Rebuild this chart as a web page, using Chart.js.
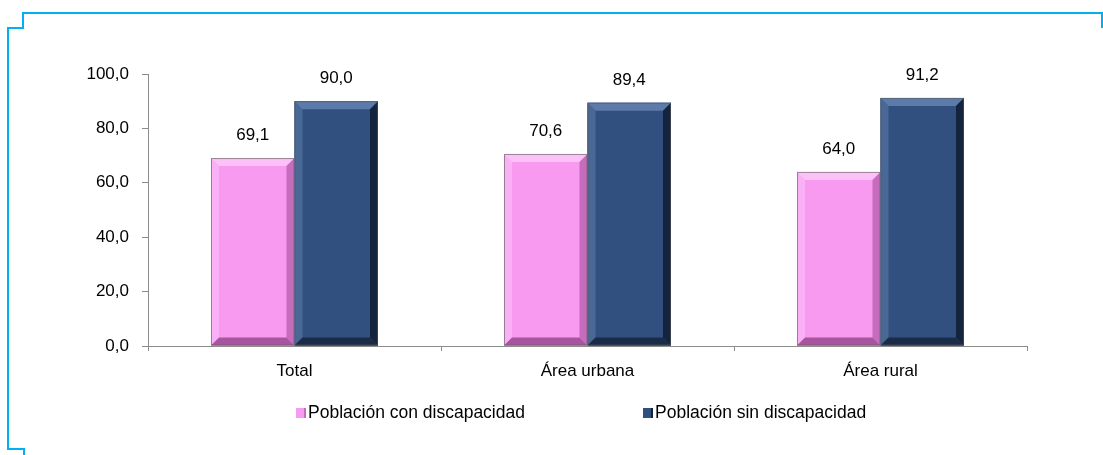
<!DOCTYPE html>
<html>
<head>
<meta charset="utf-8">
<script src="https://cdn.jsdelivr.net/npm/chart.js@4/dist/chart.umd.min.js"></script>
<style>
html,body{margin:0;padding:0;background:#fff;}
#wrap{position:relative;width:1103px;height:455px;}
</style>
</head>
<body>
<div id="wrap"><canvas id="c" width="1103" height="455"></canvas></div>
<script>
const categories = ['Total', 'Área urbana', 'Área rural'];
const conDiscapacidad = [69.1, 70.6, 64.0];
const sinDiscapacidad = [90.0, 89.4, 91.2];
const seriesNames = ['Población con discapacidad', 'Población sin discapacidad'];
const yTicks = [0, 20, 40, 60, 80, 100];

const FONT = '"Liberation Sans", Arial, sans-serif';
const fmt = v => v.toFixed(1).replace('.', ',');

const palette = [
  {fill:'#F99AF1', light:'#FCC2F8', dark:'#C56CBC', darker:'#A8549F'},
  {fill:'#31507F', light:'#5C7BAA', dark:'#14243F', darker:'#1B2C48'}
];

const frame = {
  id:'frame',
  afterDraw(chart){
    const ctx = chart.ctx;
    ctx.save();
    ctx.strokeStyle = '#00B0F0';
    ctx.lineWidth = 2;
    ctx.beginPath();
    ctx.moveTo(1102, 28); ctx.lineTo(1102, 13); ctx.lineTo(23, 13); ctx.lineTo(23, 28);
    ctx.lineTo(8, 28); ctx.lineTo(8, 449); ctx.lineTo(24, 449); ctx.lineTo(24, 455);
    ctx.stroke();
    ctx.restore();
  }
};

const bevel = {
  id:'bevel',
  afterDatasetsDraw(chart){
    const ctx = chart.ctx;
    ctx.save();
    chart.data.datasets.forEach((ds, di) => {
      const meta = chart.getDatasetMeta(di);
      const p = palette[di];
      meta.data.forEach((bar, i) => {
        const {x, y, base, width} = bar.getProps(['x','y','base','width'], true);
        const l = x - width/2, r = x + width/2, t = y, b = base;
        const s = 8;
        ctx.fillStyle = p.fill;
        ctx.fillRect(l, t, width, b - t);
        ctx.fillStyle = p.light;
        ctx.beginPath(); ctx.moveTo(l, t); ctx.lineTo(r, t); ctx.lineTo(r - s, t + s); ctx.lineTo(l + s, t + s); ctx.closePath(); ctx.fill();
        ctx.globalAlpha = 0.55;
        ctx.beginPath(); ctx.moveTo(l, t); ctx.lineTo(l + s, t + s); ctx.lineTo(l + s, b - s); ctx.lineTo(l, b); ctx.closePath(); ctx.fill();
        ctx.globalAlpha = 1;
        ctx.fillStyle = p.dark;
        ctx.beginPath(); ctx.moveTo(r, t); ctx.lineTo(r, b); ctx.lineTo(r - s, b - s); ctx.lineTo(r - s, t + s); ctx.closePath(); ctx.fill();
        ctx.fillStyle = p.darker;
        ctx.beginPath(); ctx.moveTo(l, b); ctx.lineTo(r, b); ctx.lineTo(r - s, b - s); ctx.lineTo(l + s, b - s); ctx.closePath(); ctx.fill();
        ctx.strokeStyle = 'rgba(90,90,90,0.6)';
        ctx.lineWidth = 1;
        ctx.strokeRect(l + 0.5, t + 0.5, width - 1, b - t - 1);
        ctx.fillStyle = '#000';
        ctx.font = '17px ' + FONT;
        ctx.textAlign = 'center';
        ctx.textBaseline = 'middle';
        ctx.fillText(fmt(ds.data[i]), x, t - 23);
      });
    });
    ctx.restore();
  }
};

const legendDraw = {
  id:'legendDraw',
  afterDraw(chart){
    const ctx = chart.ctx;
    ctx.save();
    ctx.font = '17.5px ' + FONT;
    ctx.textBaseline = 'middle';
    ctx.textAlign = 'left';
    const starts = [296, 643];
    const yc = 413;
    chart.data.datasets.forEach((ds, di) => {
      const p = palette[di];
      const x0 = starts[di];
      ctx.fillStyle = p.fill;
      ctx.fillRect(x0, yc - 5, 10, 10);
      ctx.fillStyle = p.dark;
      ctx.fillRect(x0 + 8, yc - 5, 2, 10);
      ctx.fillStyle = '#000';
      ctx.fillText(ds.label, x0 + 12, yc);
    });
    ctx.restore();
  }
};

new Chart(document.getElementById('c'), {
  type:'bar',
  data:{
    labels: categories,
    datasets:[
      {label: seriesNames[0], data: conDiscapacidad, backgroundColor: palette[0].fill, borderWidth:0},
      {label: seriesNames[1], data: sinDiscapacidad, backgroundColor: palette[1].fill, borderWidth:0}
    ]
  },
  options:{
    responsive:false,
    animation:false,
    events:[],
    layout:{padding:{left:0, top:74, right:76, bottom:79}},
    datasets:{bar:{categoryPercentage:0.57, barPercentage:1.0}},
    plugins:{legend:{display:false}, tooltip:{enabled:false}, title:{display:false}},
    scales:{
      x:{
        grid:{display:true, drawOnChartArea:false, offset:true, color:'#8c8c8c', tickLength:5, lineWidth:1},
        border:{display:true, color:'#8c8c8c', width:1},
        ticks:{color:'#000', font:{family:FONT, size:17}, padding:10, maxRotation:0},
        afterFit(s){ s.height = 30; }
      },
      y:{
        min:0, max:100,
        afterBuildTicks(s){ s.ticks = yTicks.map(v => ({value:v})); },
        grid:{display:true, drawOnChartArea:false, color:'#8c8c8c', tickLength:6, lineWidth:1},
        border:{display:true, color:'#8c8c8c', width:1},
        ticks:{color:'#000', font:{family:FONT, size:17}, padding:13, callback:v => fmt(v)},
        afterFit(s){ s.width = 148; }
      }
    }
  },
  plugins:[bevel, legendDraw, frame]
});
</script>
</body>
</html>
